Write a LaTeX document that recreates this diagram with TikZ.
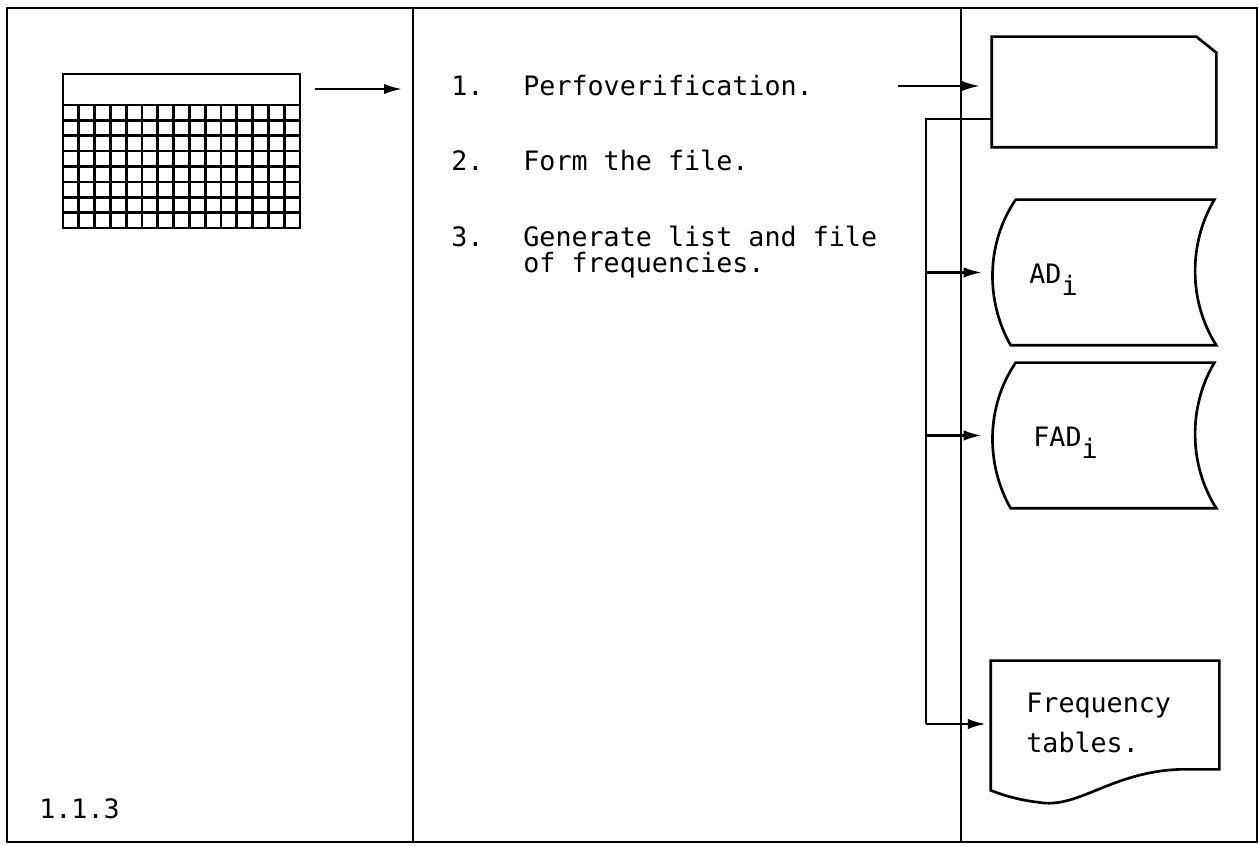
\documentclass[tikz,border=0pt]{standalone}
\usepackage{fontspec}
\setmonofont{DejaVu Sans Mono}
\usetikzlibrary{arrows.meta,positioning,calc}

\begin{document}
\begin{tikzpicture}[x=0.25mm,y=-0.25mm,>=Latex,line width=1.9pt,
 font=\ttfamily\fontsize{19}{24}\selectfont,
 frame/.style={line width=2.1pt},
 arr/.style={-{Latex[length=4.5mm,width=2.6mm]},line width=1.6pt},
 txt/.style={anchor=base west,inner sep=0pt},
 symb/.style={inner sep=0pt,minimum width=55.5mm}]
\useasboundingbox (0,0) rectangle (1259,846);
% three columns
\draw[frame] (7,8) rectangle (1257,842);
\draw[frame] (413,8) -- (413,842);
\draw[frame] (961,8) -- (961,842);
% input form
\draw (63,74) rectangle (300,228);
\draw (63,105) -- (300,105);
\foreach \i in {1,...,7} \draw (63,105+\i*15.375) -- (300,105+\i*15.375);
\foreach \j in {1,...,14} \draw (63+\j*15.8,105) -- (63+\j*15.8,228);
\coordinate (form) at (300,89);
\coordinate (inp) at (402,89);
\node[txt] (ref) at (38,819) {1.1.3};
% steps
\node[txt] (n1) at (450,96) {1.};
\node[txt] (t1) at (522,96) {Perfoverification.};
\node[txt] (n2) at (450,171) {2.};
\node[txt] (t2) at (522,171) {Form the file.};
\node[txt] (n3) at (450,247) {3.};
\node[txt] (t3) at (522,247) {Generate list and file};
\node[txt] (t3b) at (522,273) {of frequencies.};
\coordinate (outp) at (898,86);
% outputs
\node[symb,minimum height=27mm] (card) at (1104,92) {};
\node[symb,minimum height=35.75mm] (ad) at (1104,272.5) {};
\node[symb,minimum height=35.75mm] (fad) at (1104,435.5) {};
\node[symb,minimum width=56.5mm,minimum height=31.75mm] (freq) at (1105,725.5) {};
\draw (card.south west) -- (card.north west) -- ($(card.north east)+(-20,0)$)
 -- ($(card.north east)+(0,16)$) -- (card.south east) -- cycle;
\foreach \s in {ad,fad}
 \draw ($(\s.north west)+(24,0)$) -- ($(\s.north east)+(-2,0)$)
  .. controls ($(\s.north east)+(-28,44)$) and ($(\s.south east)+(-28,-44)$) .. (\s.south east)
  -- ($(\s.south west)+(19,0)$)
  .. controls ($(\s.south west)+(-6,-44)$) and ($(\s.north west)+(-6,44)$) .. cycle;
\draw (freq.north west) -- (freq.north east) -- ($(freq.south east)+(0,-21)$)
 -- ($(freq.south east)+(-38,-21)$)
 .. controls ($(freq.south east)+(-108,-19)$) and ($(freq.south west)+(88,19)$) .. ($(freq.south west)+(48,12)$)
 .. controls ($(freq.south west)+(23,9)$) and ($(freq.south west)+(8,3)$) .. (freq.south west) -- cycle;
\node[txt] (adl) at (1028,284) {AD\raisebox{-0.8ex}{i}};
\node[txt] (fadl) at (1032,447) {FAD\raisebox{-0.8ex}{i}};
\node[txt] (frl) at (1025,713) {Frequency};
\node[txt] (frl2) at (1025,753) {tables.};
% connectors
\coordinate (bustop) at (926,119);
\coordinate (busbot) at (926,724);
\draw[arr,shorten <=3.75mm] (form) -- (inp);
\draw[arr,shorten >=3mm] (outp) -- (outp -| card.west);
\draw (card.west |- bustop) -- (bustop) -- (busbot);
\draw[arr,shorten >=2.5mm] (bustop |- ad.west) -- (ad.west);
\draw[arr,shorten >=2.5mm] (bustop |- fad.west) -- (fad.west);
\draw[arr,shorten >=1.2mm] (busbot) -- (busbot -| freq.west);
\end{tikzpicture}
\end{document}
